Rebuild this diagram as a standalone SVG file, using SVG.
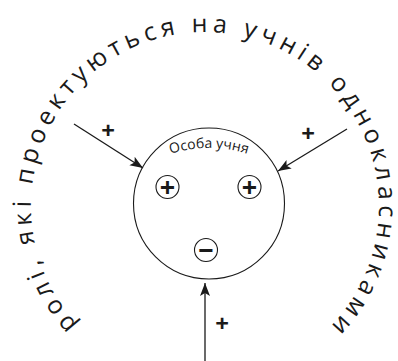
<svg xmlns="http://www.w3.org/2000/svg" width="398" height="361" viewBox="0 0 398 361">
<defs>
<style>
.ring{fill:none;stroke:#1a1a1a;stroke-width:1.1}
.sym{fill:none;stroke:#1a1a1a;stroke-width:1.1}
.conn{stroke:#1a1a1a;stroke-width:1.3;fill:none}
.arc{font-family:"Open Sans","DejaVu Sans",sans-serif;font-size:25px;fill:#1a1a1a;letter-spacing:4.8px}
.inner{font-family:"Open Sans","DejaVu Sans",sans-serif;font-size:14px;fill:#1a1a1a}
.pl{font-family:"Open Sans","DejaVu Sans",sans-serif;font-size:24px;font-weight:700;fill:#1a1a1a;text-anchor:middle}
.cs{font-family:"Open Sans","DejaVu Sans",sans-serif;font-size:27px;font-weight:700;fill:#1a1a1a;text-anchor:middle}
</style>
<marker id="ah" markerUnits="userSpaceOnUse" markerWidth="14" markerHeight="12" refX="13" refY="5" orient="auto">
<path d="M0,0 L13,5 L0,10 L3,5 z" fill="#1a1a1a"/>
</marker>
<path id="bigArc" d="M77.7,324.7 A174,174 0 1 1 316.8,339.3"/>
<path id="innerArc" d="M100.7,210.5 A125,125 0 0 1 317.3,210.5"/>
</defs>
<rect width="398" height="361" fill="#ffffff"/>

<g id="title-arc">
<text class="arc"><textPath href="#bigArc" startOffset="0">ролі, які проектуються на учнів однокласниками</textPath></text>
</g>

<g id="person">
<circle class="ring" cx="209" cy="203.5" r="75.5"/>
<text class="inner"><textPath href="#innerArc" startOffset="50%" text-anchor="middle">Особа учня</textPath></text>
</g>

<g id="plus-left">
<circle class="sym" cx="167.5" cy="187" r="11.5"/>
<text class="cs" x="167.5" y="196.5">+</text>
</g>
<g id="plus-right">
<circle class="sym" cx="249.5" cy="187" r="11.5"/>
<text class="cs" x="249.5" y="196.5">+</text>
</g>
<g id="minus">
<circle class="sym" cx="206" cy="250" r="11.5"/>
<text class="cs" x="206" y="259.5">−</text>
</g>

<g id="connectors">
<line class="conn" x1="74" y1="124" x2="143" y2="168" marker-end="url(#ah)"/>
<line class="conn" x1="347" y1="129" x2="278" y2="171" marker-end="url(#ah)"/>
<line class="conn" x1="205" y1="361" x2="205" y2="283" marker-end="url(#ah)"/>
</g>

<g id="labels">
<text class="pl" x="108" y="138.5">+</text>
<text class="pl" x="308" y="141.5">+</text>
<text class="pl" x="222" y="331.5">+</text>
</g>
</svg>
